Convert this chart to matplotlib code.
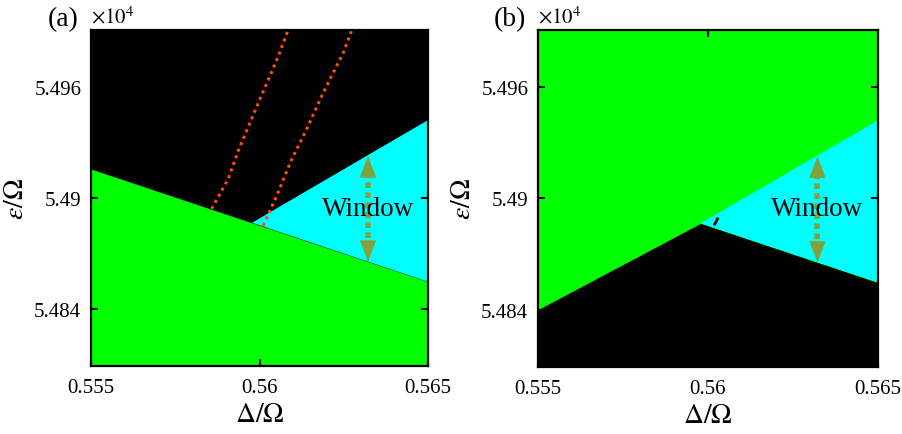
import matplotlib
matplotlib.use("Agg")
import matplotlib.pyplot as plt
import numpy as np

plt.rcParams['font.family'] = ['Liberation Serif', 'DejaVu Serif']
plt.rcParams['mathtext.fontset'] = 'stix'

# ---- data (epsilon in units of 1e4) ----
x_edges = [0.555, 0.565]
vertex_x = 0.55978
vertex_y = 5.48866
# boundary between green (below) and black/cyan (above) in (a)
green_top_y = [5.49157, 5.48546]
# upper boundary of the cyan window
cyan_top_x = [vertex_x, 0.565]
cyan_top_y = [vertex_y, 5.49422]
# lower boundary of the cyan window
cyan_bot_x = [vertex_x, 0.565]
cyan_bot_y = [vertex_y, 5.48546]
# lower-left boundary of black region in (b)
b_black_x = [0.555, vertex_x, 0.565]
b_black_y = [5.4840, vertex_y, 5.48546]
# orange dotted curves in (a)
orange1_x = [0.55858, 0.55907, 0.55937, 0.55972, 0.56001, 0.56031, 0.56056, 0.56085]
orange1_y = [5.48941, 5.49103, 5.49256, 5.49409, 5.49535, 5.49661, 5.49769, 5.49910]
orange2_x = [0.56011, 0.56051, 0.56096, 0.56140, 0.56180, 0.56214, 0.56249, 0.56274]
orange2_y = [5.48850, 5.49012, 5.49211, 5.49373, 5.49535, 5.49661, 5.49788, 5.49910]
# small black specks in (b)
speck_x = [0.56020, 0.56028]
speck_y = [5.48862, 5.48890]

xticks = [0.555, 0.56, 0.565]
xtick_labels = ['0.555', '0.56', '0.565']
yticks = [5.484, 5.49, 5.496]
ytick_labels = ['5.484', '5.49', '5.496']
ylim = (5.4809, 5.4991)
xlim = (0.555, 0.565)

window_x = 0.56322
window_top = 5.49227
window_bot = 5.48654
head_len = 0.00105
window_text_y = 5.48945

GREEN = '#00ff00'
CYAN = '#00ffff'
ARROW = '#84a03c'
ORANGE = '#ff4a10'

fig = plt.figure(figsize=(9.02, 4.35), dpi=100)
W, H = 902, 435
axA = fig.add_axes([91 / W, (H - 367) / H, 337 / W, 336 / H])
axB = fig.add_axes([538 / W, (H - 368) / H, 340 / W, 337 / H])

# panel (a)
axA.set_facecolor('black')
ymin = ylim[0]
axA.fill_between(x_edges, [ymin, ymin], green_top_y, color=GREEN, lw=0, zorder=1)
axA.fill(cyan_top_x + cyan_bot_x[::-1], cyan_top_y + cyan_bot_y[::-1], color=CYAN, lw=0, zorder=1)
axA.plot(orange1_x, orange1_y, color=ORANGE, lw=2.2, ls=(0, (1, 1.3)), zorder=2)
axA.plot(orange2_x, orange2_y, color=ORANGE, lw=2.2, ls=(0, (1, 1.3)), zorder=2)

# panel (b)
axB.set_facecolor(GREEN)
axB.fill_between(b_black_x, [ymin] * 3, b_black_y, color='black', lw=0, zorder=1)
axB.fill(cyan_top_x + cyan_bot_x[::-1], cyan_top_y + cyan_bot_y[::-1], color=CYAN, lw=0, zorder=1)
axB.plot(speck_x, speck_y, color='black', lw=2, zorder=2)

for ax, lab in [(axA, '(a)'), (axB, '(b)')]:
    ax.set_xlim(xlim)
    ax.set_ylim(ylim)
    ax.set_xticks(xticks)
    ax.set_xticklabels(xtick_labels)
    ax.set_yticks(yticks)
    ax.set_yticklabels(ytick_labels)
    ax.tick_params(direction='in', top=True, right=True, length=5, width=1.5,
                   labelsize=15, color='black')
    ax.tick_params(axis='x', pad=9)
    ax.tick_params(axis='y', pad=7)
    for s in ax.spines.values():
        s.set_linewidth(1.6)
        s.set_zorder(5)
    ax.set_xlabel(r'$\Delta/\Omega$', fontsize=20, labelpad=3)
    ax.set_ylabel(r'$\varepsilon/\Omega$', fontsize=20, labelpad=4)
    ax.text(-0.083, 1.033, lab, transform=ax.transAxes, fontsize=20, ha='center', va='center')
    ax.text(0.0, 1.008, r'$\times10^4$', transform=ax.transAxes, fontsize=15, ha='left', va='bottom')
    # window arrow: dotted shaft + two heads
    ax.plot([window_x, window_x], [window_bot + head_len * 0.7, window_top - head_len * 0.7],
            color=ARROW, lw=4, ls=(0, (1, 0.8)), solid_capstyle='butt', dash_capstyle='butt', zorder=3)
    for tip, tail in [(window_top, window_top - head_len), (window_bot, window_bot + head_len)]:
        ax.annotate('', xy=(window_x, tip), xytext=(window_x, tail),
                    arrowprops=dict(arrowstyle='-|>,head_length=1.45,head_width=0.55',
                                    color=ARROW, lw=0.5, shrinkA=0, shrinkB=0),
                    zorder=3)
    ax.text(window_x, window_text_y, 'Window', fontsize=19.5, ha='center', va='center', zorder=4)

fig.savefig('out.png', dpi=100)
